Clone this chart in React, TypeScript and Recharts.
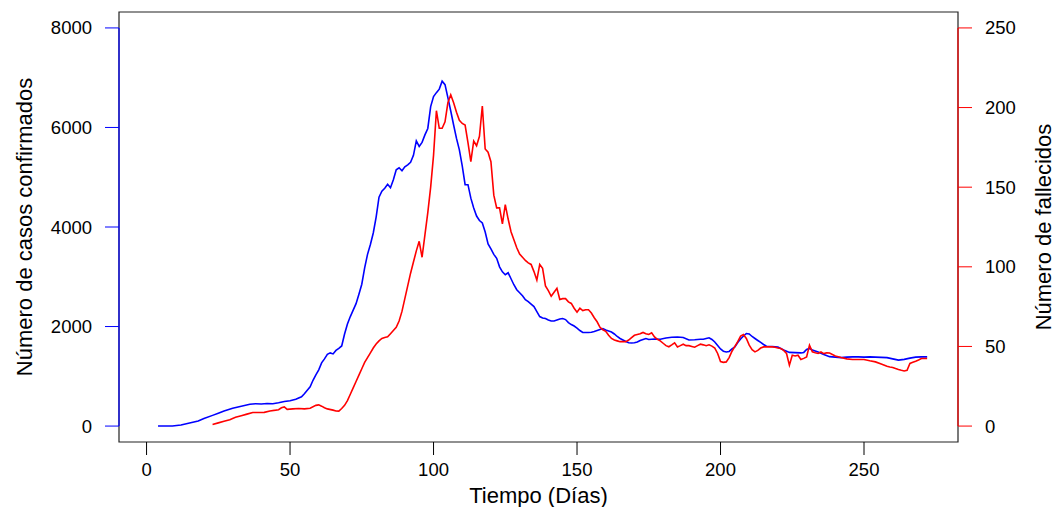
import React from 'react';
import { ComposedChart, Line, XAxis, YAxis, ReferenceArea, ReferenceLine, Label } from 'recharts';

const casesDays = [4,9,12,15,18,20,23,25,27,30,33,36,38,40,42,44,46,48,50,52,54,55,56,57,58,59,60,61,62,63,64,65,66,67,68,69,70,71,72,73,74,75,76,77,78,79,80,81,82,83,84,85,86,87,88,89,90,91,92,93,94,95,96,97,98,99,100,101,102,103,104,105,106,107,108,109,110,111,112,113,114,115,116,117,118,119,120,121,122,123,124,125,126,127,128,129,130,131,132,133,134,135,136,137,138,139,140,141,142,143,144,145,146,147,148,149,150,151,152,153,154,155,156,157,158,159,160,161,162,163,164,165,166,167,168,169,170,171,172,173,174,175,177,179,181,183,185,187,189,191,193,194,195,196,197,198,199,200,201,202,203,204,205,206,207,208,209,210,211,212,213,214,215,216,218,220,222,224,226,228,229,230,231,232,234,236,238,240,242,244,246,248,250,252,254,256,258,260,262,264,266,268,270,272];
const casesValues = [0,0,20,60,100,150,215,260,305,360,400,440,450,445,455,450,470,495,510,540,590,650,720,790,920,1030,1130,1270,1350,1440,1470,1450,1520,1560,1610,1850,2050,2200,2330,2460,2650,2850,3180,3450,3650,3880,4200,4600,4720,4780,4860,4790,4950,5150,5190,5130,5210,5250,5300,5440,5730,5620,5700,5850,5980,6420,6620,6700,6770,6930,6860,6600,6330,6050,5780,5550,5230,4850,4850,4580,4380,4220,4130,4080,3900,3660,3560,3450,3370,3200,3100,3040,3080,2960,2840,2740,2680,2620,2540,2500,2450,2400,2300,2200,2170,2160,2130,2110,2110,2130,2150,2160,2140,2080,2040,2010,1970,1920,1880,1880,1880,1885,1900,1920,1940,1960,1930,1910,1890,1850,1800,1760,1730,1700,1675,1670,1675,1690,1720,1740,1760,1740,1750,1745,1770,1785,1790,1780,1730,1735,1745,1745,1760,1775,1740,1690,1620,1550,1505,1490,1500,1550,1590,1680,1750,1810,1860,1850,1800,1760,1720,1680,1640,1605,1600,1590,1530,1480,1475,1470,1480,1540,1560,1530,1490,1440,1395,1385,1375,1385,1390,1390,1385,1390,1385,1380,1375,1350,1325,1340,1365,1385,1390,1390];

const deathsDays = [23,25,27,29,31,33,35,37,39,41,43,45,46,47,48,49,51,53,55,57,59,60,61,62,63,65,66,67,68,69,70,71,72,73,74,75,76,77,78,79,80,81,82,83,84,85,86,87,88,89,90,91,92,93,94,95,96,97,98,99,100,101,102,103,104,105,106,107,108,109,110,111,112,113,114,115,116,117,118,119,120,121,122,123,124,125,126,127,128,129,130,131,132,133,134,135,136,137,138,139,140,141,142,143,144,145,146,147,148,149,150,151,152,153,154,155,156,157,158,159,160,161,162,163,164,165,166,167,168,169,170,171,172,173,174,175,176,177,178,179,180,181,182,183,184,185,186,187,188,189,190,191,192,193,194,195,196,197,198,199,200,201,202,203,204,205,206,207,208,209,210,211,212,213,214,215,216,217,218,219,220,221,222,223,224,225,226,227,228,229,230,231,232,233,234,235,236,237,238,240,242,244,246,248,250,252,254,256,258,259,260,261,262,263,264,265,266,267,268,269,270,272];
const deathsValues = [1,2,3,4,5.5,6.5,7.5,8.5,8.5,8.6,9.5,10,10.3,11.5,12,10.5,10.8,11,10.8,11.2,13,13.3,12.5,11.5,10.8,10,9.5,9.4,11,13,16,20,24,28,32,36,40,43,46,49,51.5,53.5,55,55.6,56,58,60,62,66,72,80,88,96,103,110,116,106,120,134,150,170,198,187,187,191,203,208,203,197,192,190,189,178,166,179,176,182,201,174,172,166,145,137,137,127,139,130,122,117,112,108,106,104,102.5,101.5,97,91.7,101.5,99,88,85,81.5,84,86.5,79.5,80,80,78,77,74,71.5,74,72.5,73,73,71,68,65.5,62,60.5,59.5,57,55,54,53.5,53,53,53,54,55.5,57,57.5,58,58.8,58,57.5,58.5,56,54.5,53.5,52,50.5,49.8,51,52.3,49.7,50.5,51.4,50.5,50.5,50,49.5,50.5,51.4,51,50.5,51,50.2,49,45.6,40.5,40,40.3,43,47,50,53,56.5,57.5,55,50.8,48,46.6,47.5,49,49.7,49.7,49.8,49.7,49.5,49,48.7,47.5,45.6,38.2,44.5,44,44.5,41.8,42.5,43.4,50.8,46.6,46,45.6,46.5,45.5,46,45.9,44,43,42.2,41.8,41.8,41.8,41,40.3,39,37.5,37.1,36.8,36.1,35.5,35,34.6,35,39.3,40,40.7,41.5,42.4,42.4];

const xTicks = [0, 50, 100, 150, 200, 250];
const casesTicks = [0, 2000, 4000, 6000, 8000];
const deathsTicks = [0, 50, 100, 150, 200, 250];

const casesData = casesDays.map((d, i) => ({ day: d, v: casesValues[i] }));
const deathsData = deathsDays.map((d, i) => ({ day: d, v: deathsValues[i] }));

const FONT = '"Liberation Sans", Arial, sans-serif';
const X_DOMAIN: [number, number] = [-9.6, 282.75];
const L_DOMAIN: [number, number] = [-320, 8320];
const R_DOMAIN: [number, number] = [-10, 260];

export default function App() {
  const tickStyle = { fontSize: 18.5, fill: '#000', fontFamily: FONT };
  return (
    <div style={{ position: 'absolute', left: 0, top: 0, width: 1056, height: 507, background: '#fff' }}>
      <ComposedChart width={1056} height={507} margin={{ top: 12, right: 0, bottom: 0, left: 0 }}>
        <XAxis
          type="number"
          dataKey="day"
          domain={X_DOMAIN}
          allowDataOverflow
          ticks={xTicks}
          height={65}
          axisLine={false}
          tickSize={13}
          tickMargin={8}
          tickLine={{ stroke: '#000', strokeWidth: 1 }}
          tick={tickStyle}
        >
          <Label
            content={() => (
              <text x={538.5} y={503} textAnchor="middle" fontSize={22} fontFamily={FONT} fill="#000">
                Tiempo (Días)
              </text>
            )}
          />
        </XAxis>
        <YAxis
          yAxisId="left"
          orientation="left"
          type="number"
          domain={L_DOMAIN}
          allowDataOverflow
          ticks={casesTicks}
          width={119}
          axisLine={false}
          tickSize={14}
          tickMargin={13}
          tickLine={{ stroke: '#0000ff', strokeWidth: 1 }}
          tick={tickStyle}
        >
          <Label
            content={() => (
              <text x={32} y={227} transform="rotate(-90 32 227)" textAnchor="middle" fontSize={22} fontFamily={FONT} fill="#000">
                Número de casos confirmados
              </text>
            )}
          />
        </YAxis>
        <YAxis
          yAxisId="right"
          orientation="right"
          type="number"
          domain={R_DOMAIN}
          allowDataOverflow
          ticks={deathsTicks}
          width={98}
          axisLine={false}
          tickSize={14}
          tickMargin={13}
          tickLine={{ stroke: '#ff0000', strokeWidth: 1 }}
          tick={tickStyle}
        >
          <Label
            content={() => (
              <text x={1051} y={227} transform="rotate(-90 1051 227)" textAnchor="middle" fontSize={22} fontFamily={FONT} fill="#000">
                Número de fallecidos
              </text>
            )}
          />
        </YAxis>
        <ReferenceArea
          yAxisId="left"
          x1={X_DOMAIN[0]}
          x2={X_DOMAIN[1]}
          y1={L_DOMAIN[0]}
          y2={L_DOMAIN[1]}
          fill="none"
          fillOpacity={0}
          stroke="#222"
          strokeWidth={1.2}
          ifOverflow="visible"
        />
        <Line
          yAxisId="left"
          data={casesData}
          dataKey="v"
          type="linear"
          stroke="#0000ff"
          strokeWidth={1.6}
          dot={false}
          activeDot={false}
          isAnimationActive={false}
        />
        <Line
          yAxisId="right"
          data={deathsData}
          dataKey="v"
          type="linear"
          stroke="#ff0000"
          strokeWidth={1.6}
          dot={false}
          activeDot={false}
          isAnimationActive={false}
        />
        <ReferenceLine
          yAxisId="left"
          segment={[{ x: X_DOMAIN[0], y: 0 }, { x: X_DOMAIN[0], y: 8000 }]}
          stroke="#0000ff"
          strokeWidth={1.2}
          ifOverflow="visible"
        />
        <ReferenceLine
          yAxisId="right"
          segment={[{ x: X_DOMAIN[1], y: 0 }, { x: X_DOMAIN[1], y: 250 }]}
          stroke="#ff0000"
          strokeWidth={1.2}
          ifOverflow="visible"
        />
      </ComposedChart>
    </div>
  );
}
